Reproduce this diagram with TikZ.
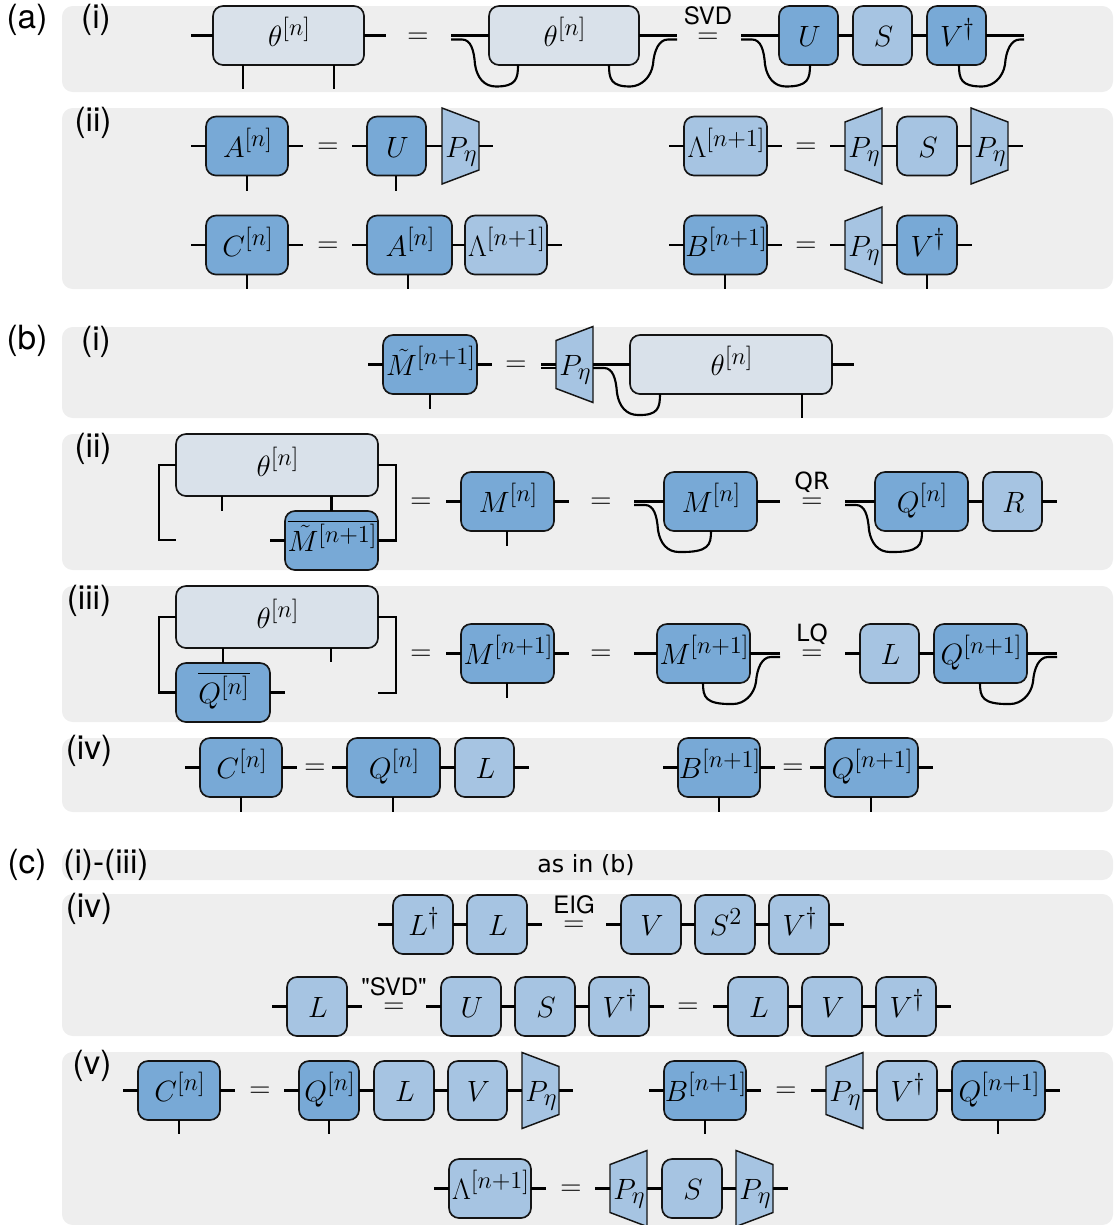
\documentclass[tikz,border=0pt]{standalone}
\usepackage{fontspec}
\usetikzlibrary{calc}
\newfontfamily\helv{TeX Gyre Heros}
\newfontfamily\djv{DejaVu Sans}
\DeclareMathSizes{17.28}{17.28}{14.4}{12}
\definecolor{cbg}{HTML}{EEEEEE}
\definecolor{cdark}{HTML}{78A9D6}
\definecolor{clight}{HTML}{A6C4E2}
\definecolor{ctheta}{HTML}{D9E1EA}
\definecolor{cline}{HTML}{141414}
\newcommand{\mth}[1]{\makebox[0pt]{\hspace{1.5pt}\scalebox{1.273}{$#1$}}}
\tikzset{
  panel/.style={fill=cbg,rounded corners=8},
  tens/.style={draw=cline,line width=1.25pt,rounded corners=7.5,inner sep=0,outer sep=0,
     text height=17.5pt,text depth=1pt,align=center,font=\LARGE},
  tdark/.style={fill=cdark},
  tlight/.style={fill=clight},
  ttheta/.style={fill=ctheta},
  leg/.style={draw=black,line width=1.6pt},
  plab/.style={inner sep=0,outer sep=0,text height=17.5pt,text depth=1pt,minimum width=27.75pt,minimum height=57pt,font=\LARGE},
  ptrap/.style={draw=cline,line width=1.1pt,fill=clight,line join=miter},
  eqs/.style={inner sep=0,font=\LARGE},
  hlab/.style={inner sep=0,font=\fontsize{25}{28}\selectfont\helv},
  slab/.style={inner sep=0,font=\fontsize{18}{21}\selectfont\helv},
  dlab/.style={inner sep=0,font=\fontsize{17.8}{21}\selectfont\djv}
}
\newcounter{eqc}
% box: name, style, x1, x2, yc, label
\newcommand{\tn}[6]{\node[tens,#2,minimum width={(#4-#3)*0.75pt},minimum height={44.25pt}] (#1) at ({(#3+#4)/2},#5) {\mth{#6}};}
% box of given height
\newcommand{\tnh}[7]{\node[tens,#2,minimum width={(#4-#3)*0.75pt},minimum height={(#7)*0.75pt}] (#1) at ({(#3+#4)/2},#5) {\mth{#6}};}
% projector, tall side left
\newcommand{\PL}[3]{\fill[ptrap] (#2,#3-38) -- (#2+37,#3-24) -- (#2+37,#3+24) -- (#2,#3+38) -- cycle;
  \node[plab] (#1) at (#2+18.5,#3) {\mth{P_\eta}};}
% projector, tall side right
\newcommand{\PR}[3]{\fill[ptrap] (#2,#3-24) -- (#2+37,#3-38) -- (#2+37,#3+38) -- (#2,#3+24) -- cycle;
  \node[plab] (#1) at (#2+18.5,#3) {\mth{P_\eta}};}
\newcommand{\eqn}[2]{\stepcounter{eqc}\node[eqs] (eq\theeqc) at (#1,#2+2) {\scalebox{1.273}{$=$}};}
% free legs
\newcommand{\lL}[2][15]{\coordinate (#2-lf) at ($(#2.west)+(-#1,0)$); \draw[leg] (#2.west) -- (#2-lf);}
\newcommand{\lR}[2][15]{\coordinate (#2-rf) at ($(#2.east)+(#1,0)$); \draw[leg] (#2.east) -- (#2-rf);}
\newcommand{\lB}[3]{\coordinate (#1-b#2) at (#2,#3); \draw[leg] (#1-b#2 |- #1.south) -- (#1-b#2);}
\newcommand{\cn}[2]{\draw[leg] (#1.east) -- (#2.west);}
% loop from a free end on the left to a lower leg of a node
\newcommand{\loopL}[3]{\coordinate (tmpl) at (#3,0);
  \draw[leg] (#1) -- ++(11,0) .. controls +(9,0) and +(-1,-14) .. ++(13,25)
    .. controls +(2,13) and +(-12,0) .. ++(21,22)
    .. controls ($(tmpl |- #2.south)+(-2,21.5)$) and ($(tmpl |- #2.south)+(0,14)$) .. (tmpl |- #2.south);}
\newcommand{\loopR}[4][9]{\coordinate (tmpl) at (#4,0);
  \draw[leg] (#2) -- ++(-#1,0) .. controls +(-9,0) and +(1,-14) .. ++(-15,25)
    .. controls +(-2,13) and +(11,0) .. ++(-23,22)
    .. controls ($(tmpl |- #3.south)+(2,21.5)$) and ($(tmpl |- #3.south)+(0,14)$) .. (tmpl |- #3.south);}
\begin{document}
\begin{tikzpicture}[x=0.75pt,y=-0.75pt]
\useasboundingbox (0,0) rectangle (1119,1225);
% panels
\fill[panel] (62,6) rectangle (1113,92);
\fill[panel] (62,108) rectangle (1113,289);
\fill[panel] (62,327) rectangle (1113,418);
\fill[panel] (62,434) rectangle (1113,570);
\fill[panel] (62,586) rectangle (1113,722);
\fill[panel] (62,738) rectangle (1113,812);
\fill[panel] (62,850) rectangle (1113,880);
\fill[panel] (62,894) rectangle (1113,1036);
\fill[panel] (62,1052) rectangle (1113,1225);
% section labels
\node[hlab] (la) at (27,20) {(a)};
\node[hlab] (lai) at (96,20) {(i)};
\node[hlab] (laii) at (93,123) {(ii)};
\node[hlab] (lb) at (27,341) {(b)};
\node[hlab] (lbi) at (96,342) {(i)};
\node[hlab] (lbii) at (93,449) {(ii)};
\node[hlab] (lbiii) at (89,601) {(iii)};
\node[hlab] (lbiv) at (89,751) {(iv)};
\node[hlab] (lc) at (27,865) {(c)};
\node[hlab] (lci) at (106,865) {(i)-(iii)};
\node[hlab] (lciv) at (89,909) {(iv)};
\node[hlab] (lcv) at (92,1066) {(v)};
\node[dlab] (asinb) at (586,865) {as in (b)};
% ---------- (a)(i)
\tn{t1}{ttheta}{213}{364}{35.5}{\theta^{[n]}}
\lL[22]{t1}\lR[22]{t1}
\lB{t1}{243}{89}\lB{t1}{334}{89}
\eqn{418}{36}
\tn{t2}{ttheta}{489}{639}{35.5}{\theta^{[n]}}
\lL[38]{t2}\lR[38]{t2}
\coordinate (t2s) at (451,39.5);\coordinate (t2e) at (677,39.5);
\loopL{t2s}{t2}{518}\loopR{t2e}{t2}{609}
\node[slab] (svd) at (708,16) {SVD};
\eqn{708}{36}
\tn{au}{tdark}{779}{838}{35.5}{U}
\tn{as}{tlight}{853}{912}{35.5}{S}
\tn{av}{tdark}{927}{986}{35.5}{V^\dagger}
\cn{au}{as}\cn{as}{av}
\lL[38]{au}\lR[38]{av}
\coordinate (aus) at (741,39.5);\coordinate (ave) at (1024,39.5);
\loopL{aus}{au}{810}\loopR[4]{ave}{av}{959}
% ---------- (a)(ii)
\tn{A1}{tdark}{206}{288}{146}{A^{[n]}}
\lL{A1}\lR{A1}\lB{A1}{247}{191}
\eqn{328}{146}
\tn{U1}{tdark}{367}{426}{146}{U}
\lL{U1}\lB{U1}{396}{191}
\PL{P1}{442}{146}
\cn{U1}{P1}\lR[14]{P1}
\tn{L1}{tlight}{684}{767}{146}{\Lambda^{[n+1]}}
\lL{L1}\lR{L1}
\eqn{806}{146}
\PR{P2}{845}{146}
\tn{S1}{tlight}{897}{957}{146}{S}
\PL{P3}{971}{146}
\lL{P2}\cn{P2}{S1}\cn{S1}{P3}\lR{P3}
\tn{C1}{tdark}{206}{288}{245}{C^{[n]}}
\lL{C1}\lR{C1}\lB{C1}{247}{289}
\eqn{328}{245}
\tn{A2}{tdark}{367}{452}{245}{A^{[n]}}
\tn{L2}{tlight}{465}{547}{245}{\Lambda^{[n+1]}}
\lL{A2}\lB{A2}{408}{289}\cn{A2}{L2}\lR{L2}
\tn{B1}{tdark}{684}{767}{245}{B^{[n+1]}}
\lL{B1}\lR{B1}\lB{B1}{725}{289}
\eqn{806}{245}
\PR{P4}{845}{245}
\tn{V1}{tdark}{897}{957}{245}{V^\dagger}
\lL{P4}\cn{P4}{V1}\lR{V1}\lB{V1}{927}{289}
% ---------- (b)(i)
\tn{Mt1}{tdark}{383}{477}{364.5}{\tilde M^{[n+1]}}
\lL{Mt1}\lR{Mt1}\lB{Mt1}{430}{409}
\eqn{516}{364.5}
\PR{P5}{556}{364.5}
\lL{P5}
\coordinate (P5a) at (541,368);\coordinate (P5b) at ($(P5.west)+(0,3.5)$);
\draw[leg] (P5a) -- (P5b);
\tn{t3}{ttheta}{630}{832}{364.5}{\theta^{[n]}}
\cn{P5}{t3}\lR[22]{t3}\lB{t3}{802}{418}
\coordinate (P5c) at ($(P5.east)+(0,3.5)$);
\loopL{P5c}{t3}{660}
% ---------- (b)(ii)
\tnh{t4}{ttheta}{176}{378}{465}{\theta^{[n]}}{62}
\tn{Mt2}{tdark}{285}{378}{540.5}{\overline{\tilde M^{[n+1]}}}
\draw[leg] (t4.west) -- ++(-17,0) coordinate (t4c1) -- (t4c1 |- 0,540) coordinate (t4c2) -- ++(17,0) coordinate (t4c3);
\draw[leg] (t4.east) -- ++(18,0) coordinate (t4c4) -- (t4c4 |- Mt2.east) -- (Mt2.east);
\lL{Mt2}
\lB{t4}{222}{511}
\draw[leg] (t4.south -| Mt2.north) -- (Mt2.north);
\eqn{421}{501}
\tn{M1}{tdark}{461}{554}{501.5}{M^{[n]}}
\lL{M1}\lR{M1}\lB{M1}{507}{546}
\eqn{601}{501}
\tn{M2}{tdark}{664}{757}{501.5}{M^{[n]}}
\lL[30]{M2}\lR[23]{M2}
\coordinate (M2s) at (634,505);\loopL{M2s}{M2}{711}
\node[dlab] (qr) at (812,482) {QR};
\eqn{812}{501}
\tn{Q1}{tdark}{875}{968}{501.5}{Q^{[n]}}
\tn{R1}{tlight}{983}{1042}{501.5}{R}
\lL[30]{Q1}\cn{Q1}{R1}\lR{R1}
\coordinate (Q1s) at (845,505);\loopL{Q1s}{Q1}{922}
% ---------- (b)(iii)
\tnh{t5}{ttheta}{176}{378}{617}{\theta^{[n]}}{62}
\tn{Qb}{tdark}{176}{270}{692.5}{\overline{Q^{[n]}}}
\draw[leg] (t5.west) -- ++(-17,0) coordinate (t5c1) -- (t5c1 |- Qb.west) -- (Qb.west);
\draw[leg] (t5.east) -- ++(18,0) coordinate (t5c2) -- (t5c2 |- 0,693) coordinate (t5c3) -- ++(-18,0) coordinate (t5c4);
\lR{Qb}
\draw[leg] (t5.south -| Qb.north) -- (Qb.north);
\lB{t5}{331}{662}
\eqn{421}{653}
\tn{M3}{tdark}{461}{554}{653.5}{M^{[n+1]}}
\lL{M3}\lR{M3}\lB{M3}{507}{698}
\eqn{601}{653}
\tn{M4}{tdark}{657}{750}{653.5}{M^{[n+1]}}
\lL[23]{M4}\lR[30]{M4}
\coordinate (M4e) at (780,657);\loopR{M4e}{M4}{703}
\node[dlab] (lq) at (812,634) {LQ};
\eqn{812}{653}
\tn{L3}{tlight}{860}{919}{653.5}{L}
\tn{Q2}{tdark}{934}{1027}{653.5}{Q^{[n+1]}}
\lL{L3}\cn{L3}{Q2}\lR[30]{Q2}
\coordinate (Q2e) at (1057,657);\loopR{Q2e}{Q2}{980}
% ---------- (b)(iv)
\tn{C2}{tdark}{200}{282}{767.5}{C^{[n]}}
\lL{C2}\lR{C2}\lB{C2}{241}{812}
\eqn{315}{767}
\tn{Q3}{tdark}{347}{440}{767.5}{Q^{[n]}}
\tn{L4}{tlight}{455}{514}{767.5}{L}
\lL{Q3}\lB{Q3}{393}{812}\cn{Q3}{L4}\lR{L4}
\tn{B2}{tdark}{678}{760}{767.5}{B^{[n+1]}}
\lL{B2}\lR{B2}\lB{B2}{719}{812}
\eqn{793}{767}
\tn{Q4}{tdark}{825}{918}{767.5}{Q^{[n+1]}}
\lL{Q4}\lR{Q4}\lB{Q4}{871}{812}
% ---------- (c)(iv)
\tn{Ld}{tlight}{393}{453}{924.5}{L^\dagger}
\tn{L5}{tlight}{467}{527}{924.5}{L}
\lL{Ld}\cn{Ld}{L5}\lR{L5}
\node[slab] (eig) at (574,905) {EIG};
\eqn{574}{924}
\tn{V2}{tlight}{621}{681}{924.5}{V}
\tn{S2}{tlight}{695}{755}{924.5}{S^2}
\tn{V3}{tlight}{769}{829}{924.5}{V^\dagger}
\lL{V2}\cn{V2}{S2}\cn{S2}{V3}\lR{V3}
\tn{L6}{tlight}{287}{347}{1006.5}{L}
\lL{L6}\lR{L6}
\node[slab] (qsvd) at (394,987) {"SVD"};
\eqn{394}{1006}
\tn{U2}{tlight}{441}{501}{1006.5}{U}
\tn{S3}{tlight}{515}{575}{1006.5}{S}
\tn{V4}{tlight}{589}{649}{1006.5}{V^\dagger}
\lL{U2}\cn{U2}{S3}\cn{S3}{V4}\lR{V4}
\eqn{688}{1006}
\tn{L7}{tlight}{728}{788}{1006.5}{L}
\tn{V5}{tlight}{802}{862}{1006.5}{V}
\tn{V6}{tlight}{876}{936}{1006.5}{V^\dagger}
\lL{L7}\cn{L7}{V5}\cn{V5}{V6}\lR{V6}
% ---------- (c)(v)
\tn{C3}{tdark}{138}{220}{1090.5}{C^{[n]}}
\lL{C3}\lR{C3}\lB{C3}{179}{1134}
\eqn{260}{1090}
\tn{Q5}{tdark}{299}{359}{1090.5}{Q^{[n]}}
\tn{L8}{tlight}{374}{434}{1090.5}{L}
\tn{V7}{tlight}{448}{507}{1090.5}{V}
\PL{P6}{522}{1090.5}
\lL{Q5}\lB{Q5}{329}{1134}\cn{Q5}{L8}\cn{L8}{V7}\cn{V7}{P6}\lR[14]{P6}
\tn{B3}{tdark}{664}{746}{1090.5}{B^{[n+1]}}
\lL{B3}\lR{B3}\lB{B3}{705}{1134}
\eqn{786}{1090}
\PR{P7}{826}{1090.5}
\tn{V8}{tlight}{877}{937}{1090.5}{V^\dagger}
\tn{Q6}{tdark}{952}{1045}{1090.5}{Q^{[n+1]}}
\lL{P7}\cn{P7}{V8}\cn{V8}{Q6}\lR{Q6}\lB{Q6}{998}{1134}
\tn{L9}{tlight}{449}{531}{1188.5}{\Lambda^{[n+1]}}
\lL{L9}\lR{L9}
\eqn{571}{1188}
\PR{P8}{610}{1188.5}
\tn{S4}{tlight}{662}{722}{1188.5}{S}
\PL{P9}{736}{1188.5}
\lL{P8}\cn{P8}{S4}\cn{S4}{P9}\lR{P9}
\end{tikzpicture}
\end{document}
